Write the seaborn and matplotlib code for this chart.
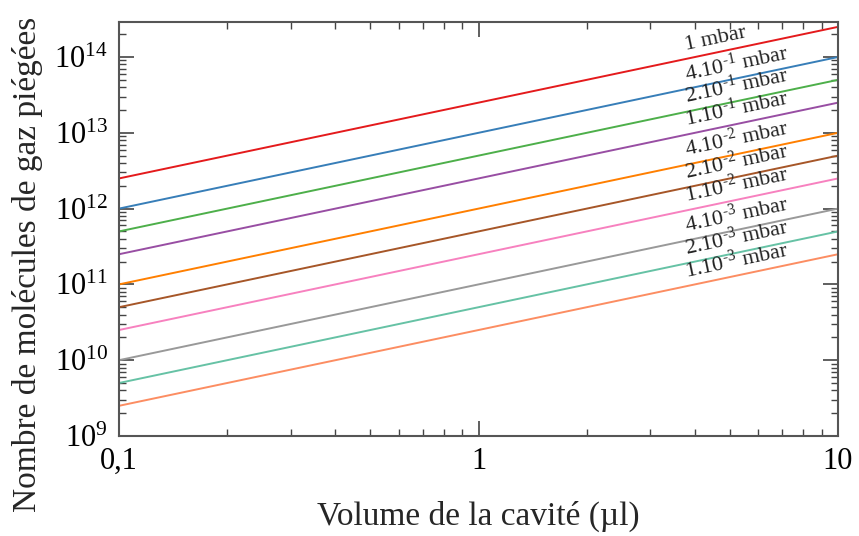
import numpy as np
import pandas as pd
import matplotlib
matplotlib.use("Agg")
import matplotlib.pyplot as plt
import matplotlib.ticker as mticker
import seaborn as sns

# données
volumes = [0.1, 10]  # µl
labels = [
    "1 mbar",
    r"4.10$^{\text{-1}}$ mbar",
    r"2.10$^{\text{-1}}$ mbar",
    r"1.10$^{\text{-1}}$ mbar",
    r"4.10$^{\text{-2}}$ mbar",
    r"2.10$^{\text{-2}}$ mbar",
    r"1.10$^{\text{-2}}$ mbar",
    r"4.10$^{\text{-3}}$ mbar",
    r"2.10$^{\text{-3}}$ mbar",
    r"1.10$^{\text{-3}}$ mbar",
]
n_debut = [2.5e12, 1e12, 5e11, 2.5e11, 1e11, 5e10, 2.5e10, 1e10, 5e9, 2.5e9]
n_fin = [2.5e14, 1e14, 5e13, 2.5e13, 1e13, 5e12, 2.5e12, 1e12, 5e11, 2.5e11]

couleurs = ["#e41a1c", "#377eb8", "#4daf4a", "#984ea3", "#ff7f00",
            "#a65628", "#f781bf", "#999999", "#66c2a5", "#fc8d62"]

rows = []
for lab, a, b in zip(labels, n_debut, n_fin):
    rows.append((lab, volumes[0], a))
    rows.append((lab, volumes[1], b))
df = pd.DataFrame(rows, columns=["pression", "volume", "n"])

sns.set_theme(style="ticks")
plt.rcParams["font.family"] = ["Liberation Serif", "DejaVu Serif"]
plt.rcParams["mathtext.fontset"] = "custom"
plt.rcParams["mathtext.rm"] = "Liberation Serif"
plt.rcParams["mathtext.default"] = "regular"

fig = plt.figure(figsize=(8.59, 5.36), dpi=100)
ax = fig.add_axes([0.1385, 0.1866, 0.8371, 0.7724])

sns.lineplot(data=df, x="volume", y="n", hue="pression", palette=couleurs,
             linewidth=1.4, legend=False, ax=ax)

ax.set_xscale("log")
ax.set_yscale("log")
ax.set_xlim(0.1, 10)
ax.set_ylim(1e9, 2.9e14)

ax.xaxis.set_major_locator(mticker.FixedLocator([0.1, 1, 10]))
ax.xaxis.set_major_formatter(mticker.FixedFormatter(["0,1", "1", "10"]))
ax.yaxis.set_major_locator(mticker.LogLocator(base=10, numticks=20))
ax.yaxis.set_minor_locator(mticker.LogLocator(base=10, subs=np.arange(2, 10), numticks=20))

ax.tick_params(which="both", direction="in", top=True, right=True, colors="#444444",
               labelcolor="black", labelsize=22)
ax.tick_params(which="major", length=11, width=1.2, pad=8)
ax.tick_params(which="minor", length=5, width=1.0)
for sp in ax.spines.values():
    sp.set_color("#555555")
    sp.set_linewidth(1.5)

ax.set_xlabel("Volume de la cavité (µl)", fontsize=24, labelpad=18)
ax.set_ylabel("Nombre de molécules de gaz piégées", fontsize=24)
ax.yaxis.set_label_coords(-0.105, 0.415)

# étiquettes le long des droites
x_lab = 3.8
for lab, a, b in zip(labels, n_debut, n_fin):
    pente = np.log10(b / a) / np.log10(volumes[1] / volumes[0])
    y_lab = a * (x_lab / volumes[0]) ** pente
    p1 = ax.transData.transform((volumes[0], a))
    p2 = ax.transData.transform((volumes[1], b))
    angle = np.degrees(np.arctan2(p2[1] - p1[1], p2[0] - p1[0]))
    ax.annotate(lab, xy=(x_lab, y_lab), xytext=(0, 2.5), textcoords="offset points",
                ha="left", va="bottom", rotation=angle, rotation_mode="anchor",
                fontsize=16, color="#222222")

fig.savefig("out.png", dpi=100)
